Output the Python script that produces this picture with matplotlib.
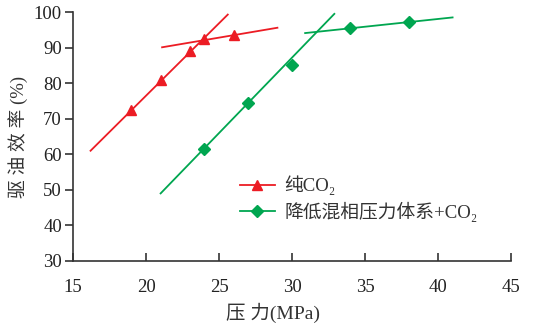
import numpy as np
import matplotlib
matplotlib.use('Agg')
import matplotlib.pyplot as plt

plt.rcParams['font.family'] = ['Liberation Serif', 'Noto Sans CJK SC', 'DejaVu Serif']

# measured points
co2_p = [19, 21, 23, 24, 26]
co2_eff = [72.5, 81, 89, 92.5, 93.5]
mix_p = [24, 27, 30, 34, 38]
mix_eff = [61.5, 74.5, 85, 95.5, 97.2]

# fitted trend lines (end points)
co2_fit1_x = [16.2, 25.6]
co2_fit1_y = [61, 99.3]
co2_fit2_x = [21.1, 29]
co2_fit2_y = [90.1, 95.6]
mix_fit1_x = [21, 32.9]
mix_fit1_y = [49, 99.5]
mix_fit2_x = [30.9, 41]
mix_fit2_y = [94.1, 98.5]

red = '#ec1c24'
green = '#00a650'
axc = '#333333'

fig = plt.figure(figsize=(5.41, 3.27), dpi=100)
ax = fig.add_axes([0.135, 0.202, 0.8095, 0.761])

ax.plot(co2_fit1_x, co2_fit1_y, '-', color=red, lw=1.3)
ax.plot(co2_fit2_x, co2_fit2_y, '-', color=red, lw=1.3)
ax.plot(mix_fit1_x, mix_fit1_y, '-', color=green, lw=1.3)
ax.plot(mix_fit2_x, mix_fit2_y, '-', color=green, lw=1.3)
ax.plot(co2_p, co2_eff, '^', color=red, ms=7.5, ls='none')
ax.plot(mix_p, mix_eff, 'D', color=green, ms=6.5, ls='none')

# legend proxies
ax.plot([], [], '-^', color=red, lw=1.3, ms=7.5, label='纯CO₂')
ax.plot([], [], '-D', color=green, lw=1.3, ms=6.5, label='降低混相压力体系+CO₂')
leg = ax.legend(loc='center left', bbox_to_anchor=(0.363, 0.25), frameon=False,
                fontsize=13.5, handlelength=1.9, handletextpad=0.48, labelspacing=0.35,
                borderaxespad=0)
for t in leg.get_texts():
    t.set_color('#333333')

ax.set_xlim(15, 45)
ax.set_ylim(30, 100)
ax.set_xticks(np.arange(15, 46, 5))
ax.set_yticks(np.arange(30, 101, 10))
for s in ['top', 'right']:
    ax.spines[s].set_visible(False)
for s in ['left', 'bottom']:
    ax.spines[s].set_color(axc)
    ax.spines[s].set_linewidth(1.2)
ax.tick_params(axis='x', direction='in', length=6, width=1.2, color=axc,
               labelsize=13.5, labelcolor='#222222', pad=13)
ax.tick_params(axis='y', direction='out', length=6, width=1.2, color=axc,
               labelsize=13.5, labelcolor='#222222', pad=2)
ax.set_xlabel('压 力(MPa)', fontsize=14, color='#333333')
ax.xaxis.set_label_coords(0.457, -0.17)
ax.set_ylabel('驱 油 效 率 (%)', fontsize=13.5, color='#333333', labelpad=4)

fig.savefig('out.png', dpi=100)
